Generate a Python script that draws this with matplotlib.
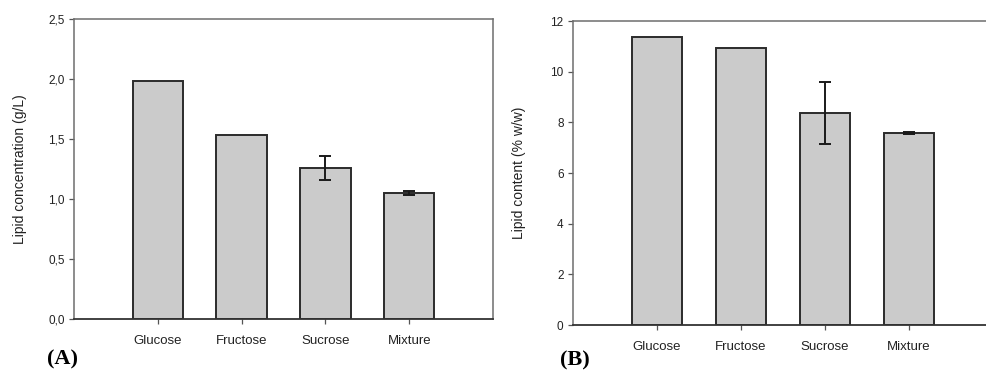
import numpy as np
import matplotlib.pyplot as plt

plt.rcParams['font.family'] = ['Liberation Sans', 'DejaVu Sans']

# carbon sources and measured lipid values
sugars = ['Glucose', 'Fructose', 'Sucrose', 'Mixture']
lipid_conc = [1.98, 1.53, 1.26, 1.05]          # g/L
lipid_conc_err = [0.0, 0.0, 0.10, 0.02]
lipid_content = [11.36, 10.93, 8.36, 7.58]     # % w/w
lipid_content_err = [0.0, 0.0, 1.23, 0.05]

fig = plt.figure(figsize=(9.87, 3.70), dpi=100)

def bar_panel(ax, vals, errs, ymax, ystep, ylabel, fmt):
    x = np.arange(1, len(sugars) + 1)
    ax.bar(x, vals, width=0.6, color='#cbcbcb', edgecolor='#2b2b2b', linewidth=1.4, zorder=2)
    e = np.array(errs)
    m = e > 0
    ax.errorbar(x[m], np.array(vals)[m], yerr=e[m], fmt='none', ecolor='#1a1a1a',
                elinewidth=1.4, capsize=4, capthick=1.4, zorder=3)
    ax.set_xlim(0, 5)
    ax.set_ylim(0, ymax)
    ax.set_xticks(x)
    ax.set_xticklabels(sugars, fontsize=9.5, color='#222222')
    yt = np.arange(0, ymax + ystep / 2, ystep)
    ax.set_yticks(yt)
    ax.set_yticklabels([fmt(v) for v in yt], fontsize=8.5, color='#222222')
    ax.tick_params(axis='both', direction='out', length=3.8, width=0.9, color='#555555')
    ax.tick_params(axis='x', pad=7.5)
    ax.tick_params(axis='y', pad=3)
    ax.spines['bottom'].set_color('#333333')
    ax.spines['bottom'].set_linewidth(1.3)
    for s in ['left', 'top', 'right']:
        ax.spines[s].set_color('#6e6e6e')
        ax.spines[s].set_linewidth(1.1)
    ax.set_ylabel(ylabel, fontsize=10, color='#222222')

ax1 = fig.add_axes([74 / 987, 1 - 319 / 370, 419 / 987, 300 / 370])
bar_panel(ax1, lipid_conc, lipid_conc_err, 2.5, 0.5,
          'Lipid concentration (g/L)', lambda v: f'{v:.1f}'.replace('.', ','))
ax1.yaxis.set_label_coords(-0.113, 0.5)

ax2 = fig.add_axes([573 / 987, 1 - 325 / 370, 420 / 987, 304 / 370])
bar_panel(ax2, lipid_content, lipid_content_err, 12, 2,
          'Lipid content (% w/w)', lambda v: f'{v:.0f}')
ax2.yaxis.set_label_coords(-0.111, 0.5)

fig.text(47 / 987, 1 - 359 / 370, '(A)', family='Liberation Serif', fontweight='bold',
         fontsize=16, va='center', ha='left')
fig.text(560 / 987, 1 - 360 / 370, '(B)', family='Liberation Serif', fontweight='bold',
         fontsize=16, va='center', ha='left')

fig.savefig('out.png', dpi=100)
